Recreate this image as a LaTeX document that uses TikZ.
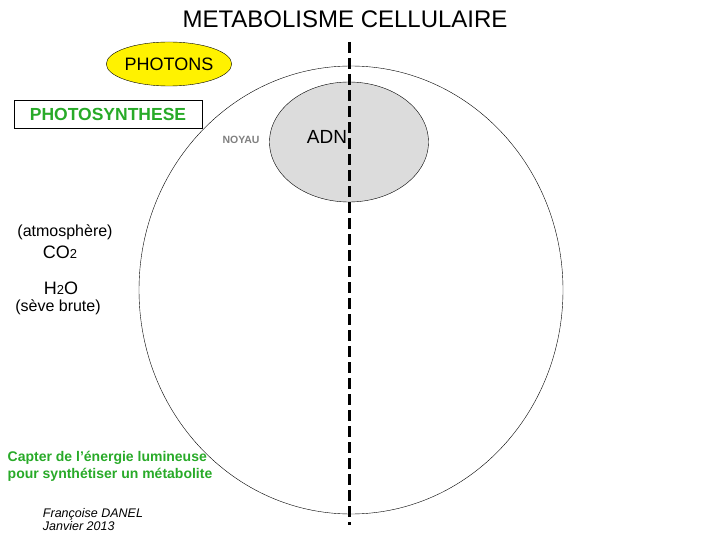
\documentclass[tikz,border=0pt]{standalone}
\usepackage{fontspec}
\setmainfont{Liberation Sans}
\usetikzlibrary{positioning,shapes}
\definecolor{photongreen}{RGB}{40,170,40}
\definecolor{noyaugray}{RGB}{220,220,220}
\tikzset{
    txt/.style={
           inner sep=0pt,
           text centered,
           font=\fontsize{16}{18}\selectfont,
           },
    greenlabel/.style={
           txt,
           text=photongreen,
           font=\fontsize{14}{17}\selectfont\bfseries,
           align=left,
           },
    author/.style={
           txt,
           font=\fontsize{12.5}{13}\selectfont\itshape,
           align=left,
           }
}
\begin{document}
\begin{tikzpicture}
[
x=1pt,y=-1pt
]
 \useasboundingbox (0,0) rectangle (720,540);

 % cell and nucleus
 \node[draw,ellipse,minimum width=424,minimum height=448,inner sep=0pt] (CELL) at (351,290) {};
 \node[draw,ellipse,fill=noyaugray,minimum width=159,minimum height=120,inner sep=0pt] (NOYAU) at (349,142) {};

 \coordinate (TOP) at (349,42);
 \coordinate (BOTTOM) at (349,525);
 \draw[line width=3pt,dash pattern=on 11pt off 5pt] (TOP) -- (BOTTOM);

 \node[txt,font=\fontsize{24}{26}\selectfont] (TITLE) at (345,19) {METABOLISME CELLULAIRE};

 % photons and photosynthesis
 \node[draw,ellipse,fill=yellow,minimum width=119,minimum height=44,inner sep=0pt,txt,font=\fontsize{18}{20}\selectfont] (PHOTONS) at (169,64) {PHOTONS};
 \node[draw,rectangle,minimum width=188,minimum height=28,text=photongreen,font=\fontsize{17.5}{19}\selectfont\bfseries] (PHOTOSYN) at (108,114) {PHOTOSYNTHESE};

 \node[txt,text=gray,font=\fontsize{10.5}{12}\selectfont\bfseries] (NOYAULBL) at (241,140) {NOYAU};
 \node[txt,font=\fontsize{19}{21}\selectfont] (ADN) at (327,137) {ADN};

 % inputs
 \node[txt] (ATM) at (65,232) {(atmosphère)};
 \node[txt,font=\fontsize{18}{20}\selectfont] (CO) at (60,252) {CO{\fontsize{13}{15}\selectfont 2}};
 \node[txt,font=\fontsize{18}{20}\selectfont] (HO) at (61,288) {H{\fontsize{13}{15}\selectfont 2}O};
 \node[txt] (SEVE) at (58,307) {(sève brute)};

 \node[greenlabel] (BUT) at (110,466) {Capter de l’énergie lumineuse\\pour synthétiser un métabolite};
 \node[author] (DANEL) at (93,520) {Françoise DANEL\\Janvier 2013};
\end{tikzpicture}
\end{document}
